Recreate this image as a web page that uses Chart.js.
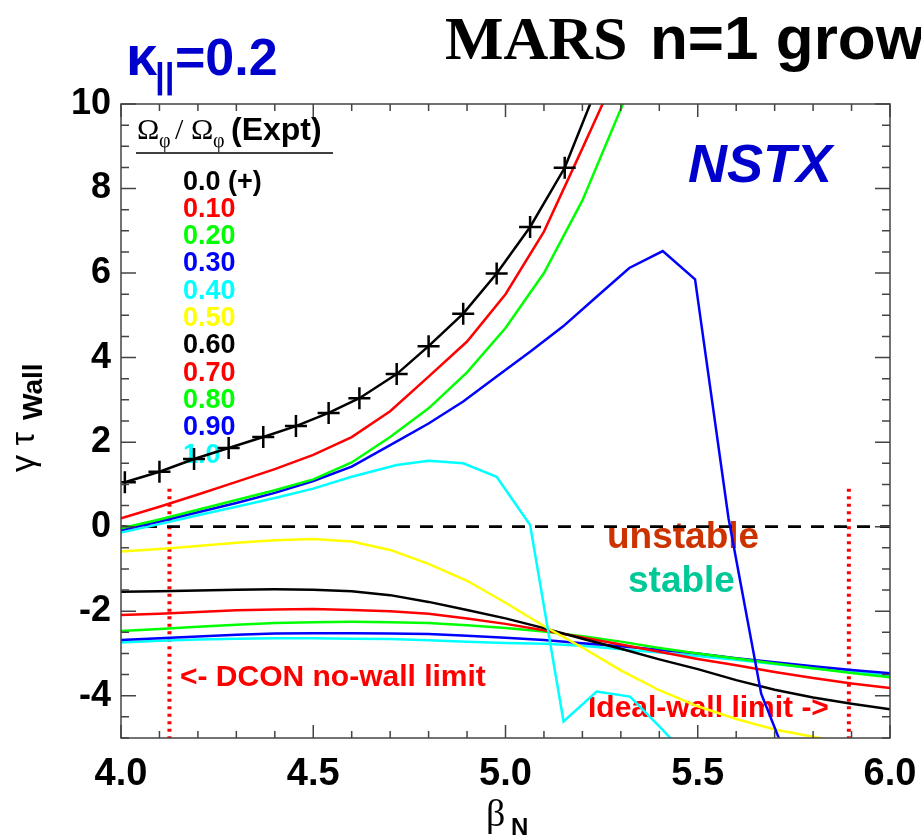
<!DOCTYPE html>
<html>
<head>
<meta charset="utf-8">
<script src="https://cdn.jsdelivr.net/npm/chart.js@4"></script>
<style>
  html, body { margin: 0; padding: 0; background: #fff; }
  canvas { display: block; }
</style>
</head>
<body>
<canvas id="myChart" width="921" height="837"></canvas>
<script>
// Omega_phi / Omega_phi(Expt) values, one curve each
const rotationLabels = ["0.0 (+)", "0.10", "0.20", "0.30", "0.40", "0.50", "0.60", "0.70", "0.80", "0.90", "1.0"];
const colors = ["#000000", "#ff0000", "#00ff00", "#0000ff", "#00ffff", "#ffff00", "#000000", "#ff0000", "#00ff00", "#0000ff", "#00ffff"];

const betaSteps = [4.0, 4.1, 4.2, 4.3, 4.4, 4.5, 4.6, 4.7, 4.8, 4.9, 5.0, 5.1, 5.2, 5.3, 5.4, 5.5, 5.6, 5.7, 5.8, 5.9, 6.0];

// unstable branch
const beta00 = [4.01, 4.10, 4.19, 4.28, 4.37, 4.455, 4.54, 4.62, 4.717, 4.80, 4.89, 4.977, 5.064, 5.154, 5.24];
const gamma00 = [1.05, 1.30, 1.60, 1.86, 2.12, 2.38, 2.69, 3.04, 3.61, 4.27, 5.04, 5.99, 7.09, 8.49, 10.45];

const beta10 = [4.0, 4.1, 4.2, 4.3, 4.4, 4.5, 4.6, 4.7, 4.8, 4.9, 5.0, 5.1, 5.2, 5.27];
const gamma10 = [0.20, 0.47, 0.76, 1.06, 1.36, 1.70, 2.12, 2.73, 3.55, 4.38, 5.50, 6.98, 8.95, 10.35];

const beta20 = [4.0, 4.1, 4.2, 4.3, 4.4, 4.5, 4.6, 4.7, 4.8, 4.9, 5.0, 5.1, 5.2, 5.31];
const gamma20 = [-0.04, 0.17, 0.40, 0.63, 0.86, 1.12, 1.52, 2.12, 2.80, 3.65, 4.70, 6.00, 7.72, 10.1];

const beta30 = [4.0, 4.1, 4.2, 4.3, 4.4, 4.5, 4.6, 4.7, 4.8, 4.89, 4.977, 5.064, 5.15, 5.237, 5.322, 5.409, 5.493, 5.58, 5.665, 5.75];
const gamma30 = [-0.08, 0.12, 0.34, 0.56, 0.80, 1.08, 1.42, 1.93, 2.44, 2.96, 3.55, 4.14, 4.74, 5.44, 6.12, 6.52, 5.85, 0.2, -3.95, -5.9];

const beta40 = [4.0, 4.1, 4.2, 4.3, 4.4, 4.5, 4.6, 4.717, 4.80, 4.89, 4.977, 5.064, 5.151, 5.237, 5.324, 5.41, 5.5];
const gamma40 = [-0.14, 0.06, 0.27, 0.47, 0.68, 0.90, 1.18, 1.46, 1.56, 1.50, 1.18, 0.04, -4.61, -3.90, -4.02, -4.82, -5.7];

// stable branch
const beta50 = [4.0, 4.1, 4.2, 4.3, 4.4, 4.5, 4.6, 4.7, 4.8, 4.9, 5.0, 5.1, 5.2, 5.3, 5.4, 5.5, 5.6, 5.7, 5.8, 5.9];
const gamma50 = [-0.59, -0.53, -0.46, -0.38, -0.32, -0.29, -0.35, -0.55, -0.88, -1.28, -1.80, -2.35, -2.86, -3.40, -3.87, -4.25, -4.55, -4.80, -4.97, -5.15];
const gamma60 = [-1.54, -1.53, -1.51, -1.49, -1.48, -1.49, -1.53, -1.62, -1.78, -1.97, -2.17, -2.40, -2.65, -2.89, -3.14, -3.37, -3.63, -3.86, -4.04, -4.19, -4.32];
const gamma70 = [-2.09, -2.06, -2.02, -1.98, -1.96, -1.95, -1.97, -2.00, -2.06, -2.17, -2.30, -2.45, -2.62, -2.79, -2.96, -3.13, -3.28, -3.44, -3.58, -3.71, -3.82];
const gamma80 = [-2.47, -2.42, -2.37, -2.32, -2.28, -2.26, -2.25, -2.26, -2.28, -2.33, -2.40, -2.48, -2.59, -2.72, -2.87, -3.00, -3.12, -3.24, -3.35, -3.46, -3.56];
const gamma90 = [-2.68, -2.64, -2.60, -2.56, -2.53, -2.52, -2.52, -2.53, -2.54, -2.58, -2.63, -2.68, -2.76, -2.83, -2.91, -3.00, -3.11, -3.21, -3.30, -3.39, -3.47];
const gamma100 = [-2.74, -2.70, -2.67, -2.65, -2.64, -2.64, -2.65, -2.66, -2.69, -2.72, -2.75, -2.77, -2.82, -2.90, -2.98, -3.06, -3.15, -3.25, -3.35, -3.44, -3.52];

// stability limits
const dconLimit = 4.126;
const idealWallLimit = 5.893;
const limitTop = 0.9;

const xTickLabels = ["4.0", "4.5", "5.0", "5.5", "6.0"];
const yTickLabels = ["-4", "-2", "0", "2", "4", "6", "8", "10"];

const SANS = '"Liberation Sans", Arial, sans-serif';
const SERIF = '"Liberation Serif", "Times New Roman", serif';

const toPoints = (xs, ys) => xs.map((x, i) => ({ x, y: ys[i] }));

const curve = (i, xs, ys, extra) => ({
  label: rotationLabels[i],
  data: toPoints(xs, ys),
  borderColor: colors[i],
  backgroundColor: colors[i],
  borderWidth: 2.5,
  pointRadius: 0,
  tension: 0,
  fill: false,
  ...extra
});

const datasets = [
  curve(0, beta00, gamma00, {
    pointStyle: "cross",
    pointRadius: beta00.map((b, i) => (i === beta00.length - 1 ? 0 : 11)),
    pointBorderWidth: 2.5,
    pointBorderColor: "#000"
  }),
  curve(1, beta10, gamma10),
  curve(2, beta20, gamma20),
  curve(3, beta30, gamma30),
  curve(4, beta40, gamma40),
  curve(5, beta50, gamma50),
  curve(6, betaSteps, gamma60),
  curve(7, betaSteps, gamma70),
  curve(8, betaSteps, gamma80),
  curve(9, betaSteps, gamma90),
  curve(10, betaSteps, gamma100),
  {
    label: "zero",
    data: toPoints([4.0, 6.0], [0, 0]),
    borderColor: "#000",
    borderWidth: 2.8,
    borderDash: [13, 10],
    pointRadius: 0
  },
  {
    label: "DCON no-wall limit",
    data: toPoints([dconLimit, dconLimit], [limitTop, -5]),
    borderColor: "#ff0000",
    borderWidth: 4,
    borderDash: [3, 4.5],
    pointRadius: 0
  },
  {
    label: "Ideal-wall limit",
    data: toPoints([idealWallLimit, idealWallLimit], [limitTop, -5]),
    borderColor: "#ff0000",
    borderWidth: 4,
    borderDash: [3, 4.5],
    pointRadius: 0
  }
];

const isMajorX = (v) => Math.abs(v * 2 - Math.round(v * 2)) < 1e-6;
const isMajorY = (v) => Math.abs(v / 2 - Math.round(v / 2)) < 1e-6;

const text = (c, s, x, y, font, color, align) => {
  c.font = font;
  c.fillStyle = color;
  c.textAlign = align || "left";
  c.textBaseline = "alphabetic";
  c.fillText(s, x, y);
};

const overlay = {
  id: "overlay",
  beforeDatasetsDraw(chart) {
    const c = chart.ctx;
    c.save();
    // legend block
    text(c, "\u03A9", 137, 139, "30px " + SERIF, "#000");
    text(c, "\u03C6", 159, 147, "20px " + SERIF, "#000");
    text(c, "/", 175, 139, "30px " + SERIF, "#000");
    text(c, "\u03A9", 191, 139, "30px " + SERIF, "#000");
    text(c, "\u03C6", 213, 147, "20px " + SERIF, "#000");
    text(c, "(Expt)", 231, 140, "bold 32px " + SANS, "#000");
    c.strokeStyle = "#000";
    c.lineWidth = 1.5;
    c.beginPath();
    c.moveTo(136, 153);
    c.lineTo(333, 153);
    c.stroke();
    rotationLabels.forEach((lab, i) => {
      text(c, lab, 183, 189.5 + i * 27.3, "bold 27px " + SANS, colors[i]);
    });

    text(c, "NSTX", 688, 182, "italic bold 54px " + SANS, "#0000cc");
    text(c, "unstable", 607, 548, "bold 37px " + SANS, "#cc3300");
    text(c, "stable", 628, 592, "bold 37px " + SANS, "#00c896");
    text(c, "<- DCON no-wall limit", 180, 686, "bold 30px " + SANS, "#ff0000");
    text(c, "Ideal-wall limit ->", 588, 717, "bold 30px " + SANS, "#ff0000");
    c.restore();
  },
  afterDraw(chart) {
    const c = chart.ctx;
    const a = chart.chartArea;
    const xs = chart.scales.x;
    const ys = chart.scales.y;
    c.save();
    c.strokeStyle = "#444";
    c.lineWidth = 1.5;
    c.strokeRect(a.left, a.top, a.right - a.left, a.bottom - a.top);
    c.beginPath();
    xs.ticks.forEach((t) => {
      const px = xs.getPixelForValue(t.value);
      const len = isMajorX(t.value) ? 13 : 7;
      c.moveTo(px, a.bottom);
      c.lineTo(px, a.bottom - len);
      c.moveTo(px, a.top);
      c.lineTo(px, a.top + len);
    });
    ys.ticks.forEach((t) => {
      const py = ys.getPixelForValue(t.value);
      const len = isMajorY(t.value) ? 15 : 8;
      c.moveTo(a.left, py);
      c.lineTo(a.left + len, py);
      c.moveTo(a.right, py);
      c.lineTo(a.right - len, py);
    });
    c.stroke();

    // titles
    text(c, "MARS", 445, 59, "bold 62px " + SERIF, "#000");
    text(c, "n=1 grow", 650, 59, "bold 62px " + SANS, "#000");
    text(c, "\u03BA", 126, 75, "bold 56px " + SANS, "#0000cc");
    text(c, "||", 155, 88, "bold 35px " + SANS, "#0000cc");
    text(c, "=0.2", 175, 75, "bold 52px " + SANS, "#0000cc");

    // x axis title
    text(c, "\u03B2", 486, 826, "38px " + SERIF, "#000");
    text(c, "N", 511, 835, "bold 24px " + SANS, "#000");

    // y axis title
    c.translate(34, 472);
    c.rotate(-Math.PI / 2);
    text(c, "\u03B3 \u03C4", 0, 0, "34px " + SANS, "#000");
    text(c, "Wall", 52, 8, "bold 28px " + SANS, "#000");
    c.restore();
  }
};

const createChart = () => {
  const ctx = document.getElementById("myChart").getContext("2d");
  return new Chart(ctx, {
    type: "line",
    data: { datasets },
    options: {
      responsive: false,
      animation: false,
      devicePixelRatio: 1,
      layout: { padding: { top: 104, right: 31, left: 0, bottom: 0 } },
      plugins: {
        legend: { display: false },
        tooltip: { enabled: false }
      },
      scales: {
        x: {
          type: "linear",
          min: 4,
          max: 6,
          afterFit: (s) => {
            s.height = 99;
            s.paddingLeft = 0;
            s.paddingRight = 0;
          },
          grid: { display: false, drawTicks: false },
          border: { display: false },
          ticks: {
            stepSize: 0.1,
            autoSkip: false,
            maxRotation: 0,
            padding: 14,
            color: "#000",
            font: { family: SANS, size: 38, weight: "bold" },
            callback: (v) => {
              const lab = v.toFixed(1);
              return isMajorX(v) && xTickLabels.includes(lab) ? lab : "";
            }
          }
        },
        y: {
          type: "linear",
          min: -5,
          max: 10,
          afterFit: (s) => {
            s.width = 121;
            s.paddingTop = 0;
            s.paddingBottom = 0;
          },
          grid: { display: false, drawTicks: false },
          border: { display: false },
          ticks: {
            stepSize: 0.5,
            autoSkip: false,
            padding: 10,
            color: "#000",
            font: { family: SANS, size: 36, weight: "bold" },
            callback: (v) => {
              const lab = String(Math.round(v));
              return isMajorY(v) && yTickLabels.includes(lab) ? lab : "";
            }
          }
        }
      }
    },
    plugins: [overlay]
  });
};

createChart();
</script>
</body>
</html>
